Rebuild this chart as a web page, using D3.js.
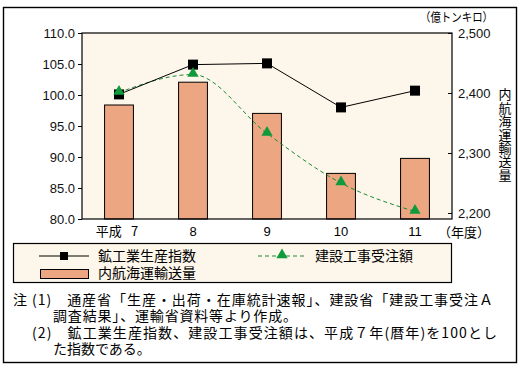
<!DOCTYPE html>
<html>
<head>
<meta charset="utf-8">
<script src="https://cdn.jsdelivr.net/npm/d3@7"></script>
<style>
  body { margin: 0; background: #fff; }
  svg { display: block; }
</style>
</head>
<body>
<svg id="chart"></svg>
<script>
// data
const years = ["平成 7", "8", "9", "10", "11"];
const mining = [100.1, 104.9, 105.1, 98.0, 100.7];        // 鉱工業生産指数
const construction = [100.4, 103.3, 93.8, 85.8, 81.2];    // 建設工事受注額
const shipping = [2380, 2418, 2366, 2266, 2291];          // 内航海運輸送量 (億トンキロ)
const leftTicks = [80, 85, 90, 95, 100, 105, 110];
const rightTicks = [2200, 2300, 2400, 2500];
const notes = [
  { text: "注 (1)　通産省「生産・出荷・在庫統計速報」、建設省「建設工事受注Ａ", x: 13, y: 305, len: 480 },
  { text: "調査結果」、運輸省資料等より作成。", x: 53, y: 321, len: 244 },
  { text: "(2)　鉱工業生産指数、建設工事受注額は、平成７年(暦年)を100とし", x: 32, y: 338, len: 465 },
  { text: "た指数である。", x: 53, y: 354, len: null }
];

const W = 527, H = 371;
const plot = { left: 82, right: 452, top: 33, bottom: 219 };
const creamFill = "#fdf6ea",
  barFill = "#eca681",
  green = "#1c8a34",
  greenMark = "#0f9a3c",
  jp = "'Noto Sans CJK JP', sans-serif",
  latin = "'Liberation Sans', Arial, sans-serif";

const svg = d3.select("#chart").attr("width", W).attr("height", H);

// outer frame
svg.append("rect")
  .attr("x", 3.5).attr("y", 7.5)
  .attr("width", 513).attr("height", 355)
  .attr("fill", "#fff").attr("stroke", "#000").attr("stroke-width", 1.4);

// scales (right axis bottom sits a little under 2,200)
const x = d3.scaleBand().domain(years).range([plot.left, plot.right]).paddingInner(0.61).paddingOuter(0.305);
const yL = d3.scaleLinear().domain([80, 110]).range([plot.bottom, plot.top]);
const yR = d3.scaleLinear().domain([2190, 2500]).range([plot.bottom, plot.top]);
const cx = d => x(d) + x.bandwidth() / 2;

// plot background
svg.append("rect")
  .attr("x", plot.left).attr("y", plot.top)
  .attr("width", plot.right - plot.left).attr("height", plot.bottom - plot.top)
  .attr("fill", creamFill);

// bars
svg.append("g").selectAll("rect")
  .data(shipping)
  .join("rect")
  .attr("x", (d, i) => x(years[i]))
  .attr("y", d => yR(d))
  .attr("width", x.bandwidth())
  .attr("height", d => plot.bottom - yR(d))
  .attr("fill", barFill)
  .attr("stroke", "#000")
  .attr("stroke-width", 1);

// plot border
svg.append("rect")
  .attr("x", plot.left).attr("y", plot.top)
  .attr("width", plot.right - plot.left).attr("height", plot.bottom - plot.top)
  .attr("fill", "none").attr("stroke", "#000").attr("stroke-width", 1.2);

// left axis
const left = svg.append("g").attr("transform", "translate(" + plot.left + ",0)")
  .call(d3.axisLeft(yL).tickValues(leftTicks).tickFormat(d3.format(".1f")).tickSize(4).tickPadding(3));
left.select(".domain").remove();
left.selectAll("text").attr("font-family", latin).attr("font-size", 13).attr("fill", "#111");

// right axis, ticks point into the plot
const right = svg.append("g").attr("transform", "translate(" + plot.right + ",0)")
  .call(d3.axisRight(yR).tickValues(rightTicks).tickFormat(d3.format(",")).tickSize(-4).tickPadding(6));
right.select(".domain").remove();
right.selectAll("text").attr("font-family", latin).attr("font-size", 13).attr("fill", "#111").attr("x", 6);

// x labels
svg.append("g").selectAll("text")
  .data(years)
  .join("text")
  .attr("x", d => cx(d) - (d.length > 2 ? 2 : 0))
  .attr("y", 236)
  .attr("text-anchor", "middle")
  .attr("font-family", d => d.length > 2 ? jp : latin)
  .attr("font-size", 13)
  .text(d => d.replace(" ", "\u2002\u2009"));

svg.append("text").attr("x", 438).attr("y", 237)
  .attr("font-family", jp).attr("font-size", 13)
  .attr("textLength", 52).attr("lengthAdjust", "spacingAndGlyphs")
  .text("（年度）");

svg.append("text").attr("x", 420).attr("y", 21.5)
  .attr("font-family", jp).attr("font-size", 12)
  .attr("textLength", 73).attr("lengthAdjust", "spacingAndGlyphs")
  .text("（億トンキロ）");

// vertical right title
svg.append("text")
  .attr("x", 505)
  .attr("y", 88)
  .style("writing-mode", "vertical-rl")
  .attr("font-family", jp).attr("font-size", 13)
  .attr("letter-spacing", 0.4)
  .text("内航海運輸送量");

// construction line (green dashed)
const greenLine = d3.line()
  .x((d, i) => cx(years[i]))
  .y(d => yL(d))
  .curve(d3.curveMonotoneX);

svg.append("path")
  .datum(construction)
  .attr("d", greenLine)
  .attr("fill", "none")
  .attr("stroke", green)
  .attr("stroke-width", 1)
  .attr("stroke-dasharray", "4,3");

// mining line (black)
const blackLine = d3.line()
  .x((d, i) => cx(years[i]))
  .y(d => yL(d));

svg.append("path")
  .datum(mining)
  .attr("d", blackLine)
  .attr("fill", "none")
  .attr("stroke", "#000")
  .attr("stroke-width", 1);

svg.append("g").selectAll("rect")
  .data(mining)
  .join("rect")
  .attr("x", (d, i) => cx(years[i]) - 5)
  .attr("y", d => yL(d) - 5)
  .attr("width", 10).attr("height", 10)
  .attr("fill", "#000");

const tri = d3.symbol().type(d3.symbolTriangle).size(55);
svg.append("g").selectAll("path")
  .data(construction)
  .join("path")
  .attr("transform", (d, i) => "translate(" + cx(years[i]) + "," + (yL(d) - 1) + ")")
  .attr("d", tri)
  .attr("fill", greenMark);

// legend
const legend = svg.append("g");
legend.append("rect")
  .attr("x", 13.5).attr("y", 243.5).attr("width", 438).attr("height", 39)
  .attr("fill", creamFill).attr("stroke", "#000").attr("stroke-width", 1.2);

legend.append("line").attr("x1", 39).attr("x2", 89).attr("y1", 256).attr("y2", 256)
  .attr("stroke", "#000").attr("stroke-width", 1.2);
legend.append("rect").attr("x", 60).attr("y", 252).attr("width", 8).attr("height", 8).attr("fill", "#000");

legend.append("line").attr("x1", 258).attr("x2", 307).attr("y1", 256).attr("y2", 256)
  .attr("stroke", green).attr("stroke-width", 1.2).attr("stroke-dasharray", "4,3");
legend.append("path").attr("transform", "translate(282,255)").attr("d", tri).attr("fill", greenMark);

legend.append("rect").attr("x", 40.5).attr("y", 269.5).attr("width", 48).attr("height", 9)
  .attr("fill", barFill).attr("stroke", "#000").attr("stroke-width", 1);

const legendText = [
  { t: "鉱工業生産指数", x: 98, y: 261 },
  { t: "建設工事受注額", x: 315, y: 261 },
  { t: "内航海運輸送量", x: 98, y: 278 }
];
legend.selectAll("text.lt")
  .data(legendText)
  .join("text")
  .attr("class", "lt")
  .attr("x", d => d.x).attr("y", d => d.y)
  .attr("font-family", jp).attr("font-size", 14)
  .text(d => d.t);

// notes: one text block, one tspan per line
svg.append("text")
  .attr("font-family", jp).attr("font-size", 14)
  .selectAll("tspan")
  .data(notes)
  .join("tspan")
  .attr("x", d => d.x).attr("y", d => d.y)
  .attr("textLength", d => d.len)
  .attr("lengthAdjust", "spacing")
  .text(d => d.text);
</script>
</body>
</html>
